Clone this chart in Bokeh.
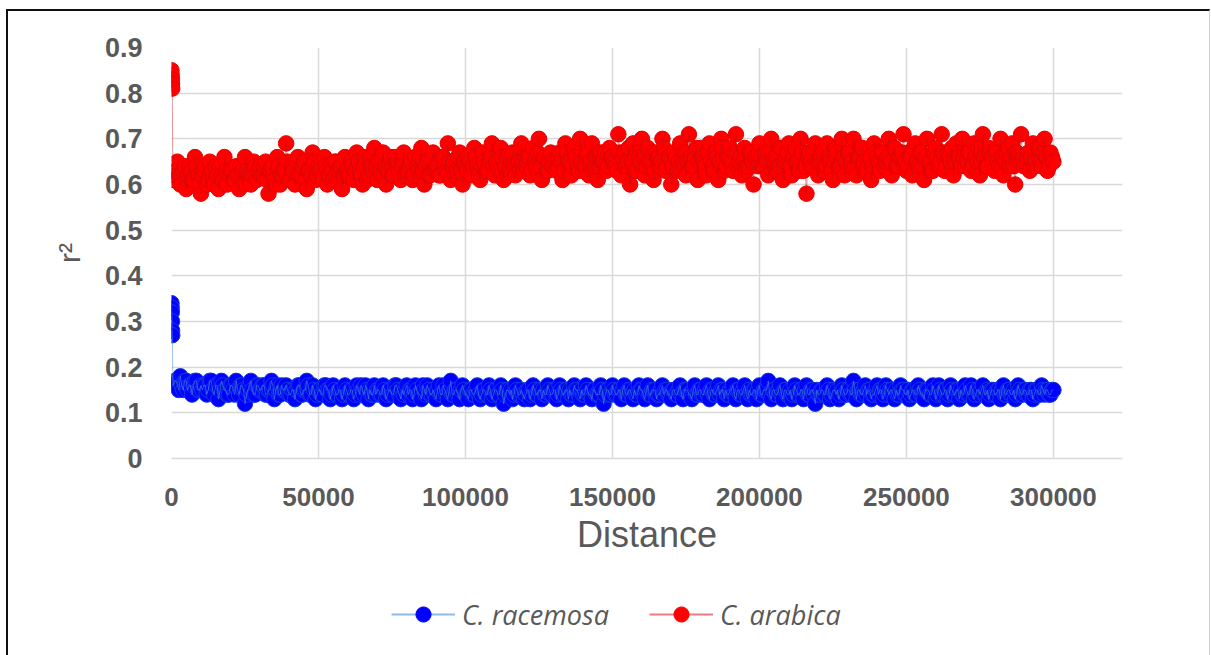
from bokeh.plotting import figure
from bokeh.layouts import column
from bokeh.models import FixedTicker, Legend, LegendItem, Range1d, NumeralTickFormatter
from bokeh.embed import file_html
from bokeh.resources import INLINE

# Short-distance pairs (first few bp) where LD is still high
ARABICA_NEAR_X = [0, 60, 120, 180, 240]
ARABICA_NEAR_Y = [0.85, 0.84, 0.83, 0.82, 0.81]
RACEMOSA_NEAR_X = [0, 50, 100, 150, 200, 250]
RACEMOSA_NEAR_Y = [0.34, 0.33, 0.32, 0.30, 0.28, 0.27]

# Mean r2 per 500 bp distance class up to 300 kb.
# *_R2 holds the classes ending on a whole kb, *_R2_HALF the ones ending on x.5 kb;
# one row = 10 kb.
BIN_BP = 1000
ARABICA_R2 = [
    .62, .65, .60, .63, .59, .64, .61, .66, .62, .58,
    .63, .60, .65, .61, .64, .59, .62, .66, .60, .63,
    .61, .64, .59, .63, .66, .62, .60, .65, .61, .64,
    .62, .65, .58, .64, .61, .66, .60, .63, .69, .61,
    .64, .60, .66, .62, .65, .59, .63, .67, .61, .64,
    .62, .66, .60, .64, .61, .65, .63, .59, .66, .62,
    .65, .61, .67, .63, .60, .66, .62, .64, .68, .61,
    .63, .67, .60, .65, .62, .66, .64, .61, .67, .63,
    .64, .61, .66, .63, .68, .60, .65, .62, .67, .64,
    .62, .66, .64, .69, .61, .65, .63, .67, .60, .64,
    .66, .62, .68, .64, .61, .67, .63, .65, .69, .62,
    .64, .68, .61, .66, .63, .67, .62, .65, .69, .63,
    .65, .62, .68, .64, .70, .61, .66, .63, .67, .65,
    .63, .67, .61, .69, .65, .62, .68, .64, .70, .63,
    .66, .62, .69, .64, .61, .67, .65, .63, .68, .66,
    .64, .71, .62, .67, .65, .60, .69, .63, .66, .70,
    .62, .68, .65, .61, .67, .64, .70, .63, .66, .60,
    .67, .63, .69, .65, .62, .71, .64, .66, .61, .68,
    .65, .62, .69, .64, .67, .61, .70, .63, .66, .68,
    .63, .71, .65, .62, .68, .64, .67, .60, .66, .69,
    .64, .67, .62, .70, .65, .63, .68, .61, .66, .69,
    .62, .68, .65, .70, .63, .58, .67, .64, .69, .62,
    .66, .63, .69, .65, .61, .68, .64, .70, .62, .67,
    .64, .70, .62, .66, .68, .63, .65, .61, .69, .66,
    .63, .67, .65, .70, .62, .68, .64, .66, .71, .63,
    .66, .62, .69, .64, .67, .61, .70, .65, .63, .68,
    .64, .71, .63, .67, .65, .62, .69, .66, .70, .64,
    .67, .63, .69, .65, .62, .71, .64, .68, .66, .63,
    .65, .70, .62, .67, .64, .69, .60, .66, .71, .64,
    .66, .63, .69, .65, .68, .64, .70, .63, .67, .65,
]
ARABICA_R2_HALF = [
    .61, .63, .62, .60, .64, .62, .63, .61, .64, .60,
    .62, .64, .61, .63, .60, .62, .64, .61, .63, .62,
    .63, .61, .62, .64, .60, .63, .61, .62, .64, .63,
    .62, .64, .61, .63, .62, .60, .64, .62, .63, .65,
    .61, .63, .65, .62, .64, .61, .63, .62, .65, .62,
    .63, .61, .64, .62, .63, .65, .61, .64, .62, .63,
    .62, .64, .63, .65, .62, .64, .61, .66, .63, .64,
    .65, .62, .64, .63, .66, .62, .65, .63, .64, .62,
    .63, .65, .62, .64, .66, .63, .64, .62, .65, .63,
    .64, .62, .66, .63, .65, .64, .62, .66, .63, .65,
    .63, .65, .64, .66, .62, .64, .65, .63, .66, .64,
    .65, .63, .66, .64, .62, .65, .64, .67, .63, .65,
    .64, .66, .63, .65, .67, .64, .66, .63, .65, .64,
    .66, .64, .65, .63, .67, .65, .64, .66, .63, .65,
    .64, .67, .65, .63, .66, .64, .65, .67, .64, .66,
    .65, .63, .67, .66, .64, .68, .65, .63, .67, .65,
    .66, .64, .65, .67, .63, .66, .65, .68, .64, .66,
    .64, .66, .65, .63, .67, .65, .66, .64, .68, .65,
    .66, .64, .67, .65, .63, .66, .65, .68, .64, .66,
    .65, .67, .64, .66, .65, .63, .67, .65, .66, .64,
    .66, .64, .65, .67, .63, .66, .64, .68, .65, .67,
    .64, .66, .65, .63, .67, .64, .66, .65, .68, .65,
    .65, .67, .64, .66, .63, .65, .67, .64, .66, .65,
    .67, .65, .64, .66, .68, .65, .63, .66, .64, .67,
    .65, .67, .64, .66, .65, .68, .64, .66, .67, .65,
    .64, .66, .68, .65, .67, .64, .66, .65, .63, .67,
    .66, .65, .67, .64, .66, .68, .65, .67, .64, .66,
    .65, .67, .64, .66, .68, .65, .66, .64, .67, .65,
    .67, .64, .66, .65, .68, .66, .64, .67, .65, .66,
    .65, .67, .66, .64, .68, .65, .67, .66, .64, .66,
]
RACEMOSA_R2 = [
    .17, .16, .18, .15, .17, .16, .14, .17, .15, .16,
    .16, .14, .17, .15, .16, .13, .17, .15, .14, .16,
    .15, .17, .14, .16, .12, .15, .17, .14, .16, .15,
    .16, .14, .15, .17, .13, .16, .14, .15, .16, .14,
    .15, .13, .16, .14, .15, .17, .14, .16, .13, .15,
    .14, .16, .15, .13, .16, .14, .15, .13, .16, .14,
    .15, .13, .16, .14, .15, .16, .13, .14, .16, .15,
    .14, .16, .13, .15, .14, .16, .15, .13, .14, .16,
    .15, .13, .16, .14, .13, .15, .16, .14, .15, .13,
    .16, .14, .15, .13, .17, .14, .15, .13, .16, .14,
    .13, .15, .14, .16, .13, .15, .14, .16, .13, .15,
    .14, .16, .12, .15, .14, .13, .16, .14, .15, .13,
    .15, .13, .16, .14, .15, .13, .14, .16, .14, .15,
    .13, .16, .14, .15, .13, .14, .16, .15, .13, .14,
    .16, .14, .13, .15, .14, .16, .12, .15, .14, .16,
    .14, .15, .13, .16, .14, .15, .13, .14, .16, .15,
    .13, .16, .14, .15, .13, .14, .16, .15, .14, .13,
    .15, .14, .16, .13, .15, .14, .13, .16, .14, .15,
    .14, .16, .13, .15, .14, .16, .15, .13, .14, .15,
    .16, .13, .15, .14, .16, .13, .14, .15, .13, .16,
    .14, .15, .17, .13, .15, .14, .16, .13, .15, .14,
    .13, .16, .14, .15, .13, .16, .14, .15, .12, .14,
    .15, .14, .16, .13, .15, .14, .13, .16, .14, .15,
    .14, .17, .13, .15, .14, .16, .15, .13, .14, .16,
    .15, .13, .16, .14, .15, .13, .14, .16, .15, .14,
    .13, .15, .14, .16, .14, .13, .15, .14, .16, .13,
    .16, .14, .15, .13, .16, .14, .15, .13, .14, .16,
    .14, .16, .13, .15, .14, .16, .14, .13, .15, .14,
    .15, .13, .16, .14, .15, .14, .13, .16, .14, .15,
    .14, .15, .13, .15, .14, .16, .14, .15, .14, .15,
]
RACEMOSA_R2_HALF = [
    .16, .17, .15, .16, .17, .15, .16, .16, .17, .15,
    .15, .16, .15, .17, .14, .16, .15, .16, .15, .14,
    .16, .14, .15, .16, .15, .14, .16, .15, .14, .16,
    .15, .16, .14, .15, .16, .15, .14, .16, .15, .15,
    .14, .15, .15, .16, .14, .15, .16, .14, .15, .14,
    .15, .14, .16, .15, .14, .15, .14, .15, .14, .15,
    .14, .15, .14, .15, .16, .14, .15, .15, .14, .14,
    .15, .14, .15, .14, .15, .14, .16, .14, .15, .15,
    .14, .15, .14, .15, .14, .16, .14, .15, .14, .14,
    .15, .14, .16, .14, .15, .14, .15, .14, .15, .15,
    .14, .15, .14, .15, .14, .14, .15, .14, .15, .14,
    .15, .14, .15, .14, .15, .15, .14, .15, .14, .14,
    .14, .15, .14, .15, .14, .15, .15, .14, .15, .14,
    .15, .14, .15, .14, .15, .15, .14, .15, .14, .15,
    .14, .15, .14, .15, .14, .14, .15, .14, .15, .14,
    .15, .14, .15, .15, .14, .15, .14, .15, .14, .15,
    .14, .15, .14, .15, .15, .14, .15, .14, .15, .14,
    .15, .14, .15, .14, .15, .15, .14, .15, .14, .15,
    .14, .15, .14, .15, .14, .15, .14, .15, .15, .14,
    .15, .14, .15, .14, .15, .14, .15, .14, .15, .15,
    .14, .15, .15, .14, .15, .14, .15, .14, .15, .14,
    .15, .14, .15, .14, .15, .15, .14, .15, .14, .15,
    .14, .15, .14, .15, .14, .15, .15, .14, .15, .14,
    .15, .14, .15, .15, .14, .15, .14, .15, .14, .15,
    .14, .15, .14, .15, .15, .14, .15, .14, .15, .14,
    .15, .14, .15, .14, .15, .14, .15, .15, .14, .15,
    .14, .15, .14, .15, .14, .15, .14, .15, .15, .14,
    .15, .14, .15, .14, .15, .15, .14, .15, .14, .15,
    .14, .15, .15, .14, .15, .14, .15, .14, .15, .14,
    .15, .14, .15, .14, .15, .14, .15, .15, .14, .15,
]
X_TICKS = [0, 50000, 100000, 150000, 200000, 250000, 300000]
Y_TICKS = [0, 0.1, 0.2, 0.3, 0.4, 0.5, 0.6, 0.7, 0.8, 0.9]


def series(near_x, near_y, whole, half):
    """Interleave the half-kb and whole-kb classes in distance order."""
    xs, ys = list(near_x), list(near_y)
    for i, (h, w) in enumerate(zip(half, whole)):
        xs += [BIN_BP * i + BIN_BP // 2, BIN_BP * (i + 1)]
        ys += [h, w]
    return xs, ys


arabica_x, arabica_y = series(ARABICA_NEAR_X, ARABICA_NEAR_Y, ARABICA_R2, ARABICA_R2_HALF)
racemosa_x, racemosa_y = series(RACEMOSA_NEAR_X, RACEMOSA_NEAR_Y, RACEMOSA_R2, RACEMOSA_R2_HALF)

TEXT = "#595959"
GRID = "#d9d9d9"
RAC_FILL, RAC_EDGE, RAC_LINE, RAC_KEY = "#0000ff", "#1238e0", "#4f8fd8", "#8dbbe8"
ARA_FILL, ARA_EDGE, ARA_LINE, ARA_KEY = "#ff0000", "#e60000", "#c41010", "#ee7d7d"

p = figure(
    width=1201, height=560,
    x_range=Range1d(0, 323500), y_range=Range1d(0, 0.9),
    output_backend="svg", toolbar_location=None,
    min_border_left=163, min_border_right=87, min_border_top=36, min_border_bottom=113,
)
p.outline_line_color = None

# markers first, then the thin connecting line across them
p.scatter(racemosa_x, racemosa_y, size=15.5, fill_color=RAC_FILL, line_color=RAC_EDGE, line_width=1)
p.line(racemosa_x, racemosa_y, line_color=RAC_LINE, line_width=1, line_alpha=0.55)
p.scatter(arabica_x, arabica_y, size=15.5, fill_color=ARA_FILL, line_color=ARA_EDGE, line_width=1)
p.line(arabica_x, arabica_y, line_color=ARA_LINE, line_width=1, line_alpha=0.45)

# axes
p.xaxis.ticker = FixedTicker(ticks=X_TICKS)
p.yaxis.ticker = FixedTicker(ticks=Y_TICKS)
p.xaxis.formatter = NumeralTickFormatter(format="0")
p.yaxis.major_label_overrides = {0: "0"}
p.xgrid.grid_line_color = GRID
p.ygrid.grid_line_color = GRID
p.xgrid.grid_line_width = 1.5
p.ygrid.grid_line_width = 1.5

for ax in (p.xaxis, p.yaxis):
    ax.major_tick_line_color = None
    ax.minor_tick_line_color = None
    ax.major_label_text_color = TEXT
    ax.major_label_text_font = "Liberation Sans"
    ax.major_label_text_font_style = "bold"
    ax.axis_label_text_color = TEXT
    ax.axis_label_text_font = "Liberation Sans"
    ax.axis_label_text_font_style = "normal"

p.xaxis.axis_line_color = GRID
p.xaxis.axis_line_width = 1.5
p.yaxis.axis_line_color = None

p.xaxis.major_label_text_font_size = "26px"
p.yaxis.major_label_text_font_size = "27px"
p.xaxis.major_label_standoff = 23
p.yaxis.major_label_standoff = 23

p.xaxis.axis_label = "Distance"
p.xaxis.axis_label_text_font_size = "36px"
p.xaxis.axis_label_standoff = 5
p.yaxis.axis_label = "r²"
p.yaxis.axis_label_text_font_size = "30px"
p.yaxis.axis_label_standoff = 16

# legend strip under the chart; its sample glyphs sit outside the visible range
leg = figure(
    width=1201, height=84,
    x_range=Range1d(0, 1), y_range=Range1d(0, 1),
    output_backend="svg", toolbar_location=None,
    x_axis_type=None, y_axis_type=None, min_border=0,
)
leg.outline_line_color = None
rac_l = leg.line([-5, -4], [-5, -5], line_color=RAC_KEY, line_width=2)
rac_m = leg.scatter([-5], [-5], size=15, fill_color=RAC_FILL, line_color=RAC_FILL)
ara_l = leg.line([-5, -4], [-5, -5], line_color=ARA_KEY, line_width=2)
ara_m = leg.scatter([-5], [-5], size=15, fill_color=ARA_FILL, line_color=ARA_FILL)

legend = Legend(
    items=[
        LegendItem(label="C. racemosa", renderers=[rac_l, rac_m]),
        LegendItem(label="C. arabica", renderers=[ara_l, ara_m]),
    ],
    orientation="horizontal",
    location=(220, 22),
    glyph_width=64, glyph_height=38,
    label_standoff=7, spacing=40,
    label_text_font="Open Sans", label_text_font_style="italic",
    label_text_font_size="27px", label_text_color=TEXT,
    border_line_color=None, background_fill_alpha=0,
    margin=0, padding=4,
)
leg.add_layout(legend, "center")

page = column(p, leg, spacing=0)
page.margin = (9, 0, 0, 6)
page.styles = {
    "border-top": "2px solid #111111",
    "border-left": "2px solid #111111",
    "border-right": "1px solid #cfcfcf",
}

open("out.html", "w").write(file_html(page, INLINE))
